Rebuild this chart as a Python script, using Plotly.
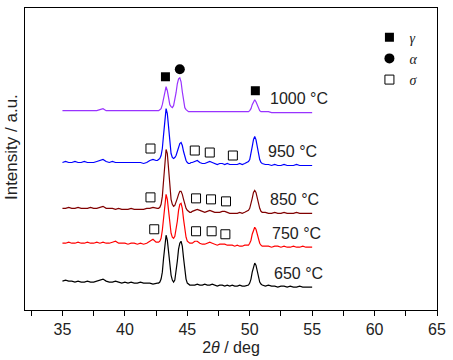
import plotly.graph_objects as go

# 2-theta sampling grid (deg)
two_theta = [
    35.0, 35.25, 35.5, 35.75, 36.0, 36.25, 36.5, 36.75, 37.0, 37.25, 37.5, 37.75,
    38.0, 38.25, 38.5, 38.75, 39.0, 39.25, 39.5, 39.75, 40.0, 40.25, 40.5, 40.75,
    41.0, 41.25, 41.5, 41.75, 42.0, 42.25, 42.5,
    42.6, 42.7, 42.8, 42.9, 43.0, 43.1, 43.2, 43.3, 43.4, 43.5, 43.6, 43.7, 43.8,
    43.9, 44.0, 44.1, 44.2, 44.3, 44.4, 44.5, 44.6, 44.7, 44.8, 44.9, 45.0, 45.1,
    45.2, 45.3, 45.4,
    45.6, 45.8, 46.0, 46.2, 46.4, 46.6, 46.8, 47.0, 47.2, 47.4, 47.6, 47.8, 48.0,
    48.2, 48.4, 48.6, 48.8, 49.0, 49.2, 49.4, 49.6, 49.8,
    49.9, 50.0, 50.1, 50.2, 50.3, 50.4, 50.5, 50.6, 50.7, 50.8, 50.9, 51.0,
    51.25, 51.5, 51.75, 52.0, 52.25, 52.5, 52.75, 53.0, 53.25, 53.5, 53.75, 54.0,
    54.25, 54.5, 54.75, 55.0,
]

# intensities (a.u.)
i650 = ([6, 7, 6, 6, 5, 6, 5, 5, 6, 5, 5, 6, 7, 8, 6, 5, 5, 6, 5, 4, 5, 4, 5, 4, 4, 5, 4, 4, 4, 3, 4]
        + [4, 4, 5, 8, 15, 29, 45, 52, 47, 34, 21, 12, 7, 5, 7, 15, 26, 38, 44, 46, 41, 29, 16, 8, 4, 3, 2, 2, 2]
        + [2, 3, 2, 2, 3, 2, 2, 3, 2, 1, 2, 2, 1, 2, 1, 2, 1, 1, 2, 1, 1, 2]
        + [2, 4, 8, 15, 21, 24, 22, 16, 9, 5, 3, 2]
        + [1, 2, 1, 1, 0, 1, 1, 0, 1, 0, 0, 1, 0, 0, 0, 0])
i750 = ([4, 4, 5, 4, 4, 5, 4, 4, 5, 4, 4, 5, 4, 5, 4, 4, 5, 6, 4, 4, 4, 3, 4, 4, 3, 4, 3, 4, 6, 8, 5]
        + [5, 5, 6, 9, 17, 31, 47, 53, 48, 36, 23, 14, 10, 9, 11, 18, 26, 37, 43, 44, 39, 28, 17, 10, 6, 5, 4, 4, 4]
        + [6, 6, 4, 3, 3, 4, 5, 4, 3, 2, 3, 3, 3, 2, 2, 2, 1, 2, 1, 1, 2, 2]
        + [2, 4, 7, 13, 18, 20, 18, 13, 8, 4, 2, 1]
        + [1, 1, 0, 1, 1, 0, 1, 0, 0, 1, 0, 0, 1, 0, 0, 0])
i850 = ([5, 5, 6, 5, 5, 6, 5, 5, 5, 6, 5, 5, 6, 7, 5, 5, 5, 4, 5, 4, 4, 4, 5, 4, 4, 4, 4, 5, 5, 6, 5]
        + [5, 5, 6, 9, 17, 33, 54, 64, 60, 44, 26, 14, 9, 7, 8, 11, 15, 19, 22, 22, 19, 14, 9, 5, 3, 2, 1, 1, 2]
        + [3, 4, 3, 2, 1, 2, 3, 2, 1, 1, 1, 2, 2, 1, 0, 0, 0, 0, 1, 0, 1, 2]
        + [3, 5, 9, 15, 21, 23, 21, 15, 9, 5, 2, 1]
        + [1, 0, 0, 1, 0, 0, 1, 0, 0, 0, 1, 0, 0, 0, 0, 0])
i950 = ([3, 4, 3, 3, 4, 3, 3, 4, 3, 3, 3, 4, 5, 6, 4, 3, 4, 3, 3, 3, 3, 3, 3, 3, 3, 3, 2, 3, 5, 6, 5]
        + [5, 6, 7, 10, 17, 31, 48, 57, 52, 38, 22, 12, 8, 7, 8, 10, 14, 19, 22, 23, 20, 14, 9, 5, 3, 2, 2, 3, 3]
        + [4, 5, 3, 2, 2, 3, 4, 3, 2, 1, 2, 2, 1, 2, 1, 1, 1, 1, 2, 1, 2, 3]
        + [4, 6, 11, 19, 26, 29, 26, 19, 11, 6, 3, 2]
        + [1, 1, 0, 1, 0, 0, 1, 0, 0, 0, 1, 0, 0, 0, 0, 0])
i1000 = ([2, 2, 2, 2, 2, 2, 2, 2, 2, 2, 2, 2, 3, 4, 2, 2, 2, 2, 2, 2, 2, 2, 2, 2, 2, 2, 2, 2, 2, 2, 2]
         + [2, 2, 3, 4, 8, 15, 23, 26, 22, 14, 8, 6, 5, 7, 12, 20, 29, 34, 35, 31, 21, 11, 5, 3, 2, 1, 1, 1, 1]
         + [1, 1, 1, 1, 1, 1, 1, 1, 1, 1, 1, 1, 1, 1, 1, 1, 1, 1, 1, 1, 1, 1]
         + [1, 2, 4, 8, 11, 13, 11, 8, 4, 2, 1, 1]
         + [1, 1, 0, 0, 0, 0, 0, 0, 0, 0, 0, 0, 0, 0, 0, 0])

temps = ["650 °C", "750 °C", "850 °C", "950 °C", "1000 °C"]
series = [i650, i750, i850, i950, i1000]
offsets = [23, 63, 97, 145, 198]
colors = ["#000000", "#ff0000", "#800000", "#0000ff", "#9933ff"]
label_x = [51.75, 51.6, 51.5, 51.3, 51.5]

# phase markers
gamma_x = [43.25, 50.45]
gamma_y = [234, 220]
alpha_x = [44.4]
alpha_y = [241.5]
sigma_x = [42.05, 45.6, 46.8, 48.65, 42.05, 45.7, 46.9, 48.1, 42.35, 45.7, 46.95, 48.05]
sigma_y = [162, 160, 158, 155, 113, 112, 111, 109, 81, 79, 79, 76]

FONT = "Arial, Liberation Sans, sans-serif"

fig = go.Figure()
for t, s, off, c in zip(temps, series, offsets, colors):
    fig.add_trace(go.Scatter(x=two_theta, y=[v + off for v in s], mode="lines",
                             line=dict(color=c, width=1.2), showlegend=False, name=t))

fig.add_trace(go.Scatter(x=gamma_x, y=gamma_y, mode="markers", name="<i>γ</i>",
                         marker=dict(symbol="square", size=9, color="black")))
fig.add_trace(go.Scatter(x=alpha_x, y=alpha_y, mode="markers", name="<i>α</i>",
                         marker=dict(symbol="circle", size=10, color="black")))
fig.add_trace(go.Scatter(x=sigma_x, y=sigma_y, mode="markers", name="<i>σ</i>",
                         marker=dict(symbol="square-open", size=9, color="black",
                                     line=dict(width=1))))

for t, off, lx in zip(temps, offsets, label_x):
    fig.add_annotation(x=lx, y=off + 14, text=t, showarrow=False, xanchor="left",
                       yanchor="middle", font=dict(family=FONT, size=16, color="#222"))

# y-axis title
fig.add_annotation(xref="paper", yref="y", x=-0.034, y=163.5, text="Intensity / a.u.",
                   textangle=-90, showarrow=False, xanchor="center", yanchor="middle",
                   font=dict(family=FONT, size=17, color="#222"))

fig.update_layout(
    width=453, height=360,
    margin=dict(l=25, r=14, t=7, b=50),
    paper_bgcolor="white", plot_bgcolor="white",
    font=dict(family=FONT, size=16, color="#222"),
    legend=dict(x=0.836, y=0.955, xanchor="left", yanchor="top",
                bgcolor="rgba(0,0,0,0)", borderwidth=0, itemwidth=30,
                font=dict(family="Liberation Serif, Times New Roman, serif", size=14)),
    xaxis=dict(range=[32, 65], tick0=35, dtick=5, ticks="outside", ticklen=5,
               tickcolor="black", showline=True, linecolor="black", linewidth=1,
               mirror=True, showgrid=False, zeroline=False,
               tickfont=dict(size=16),
               minor=dict(tick0=32.5, dtick=2.5, ticks="outside", ticklen=5, tickcolor="black"),
               title=dict(text="2<i>θ</i> / deg", standoff=4, font=dict(size=16))),
    yaxis=dict(range=[0, 303], showticklabels=False, ticks="", showline=True,
               linecolor="black", linewidth=1, mirror=True, showgrid=False,
               zeroline=False, automargin=False),
)

fig.write_html("out.html", config={"displayModeBar": False},
               post_script="document.body.style.margin='0';")
